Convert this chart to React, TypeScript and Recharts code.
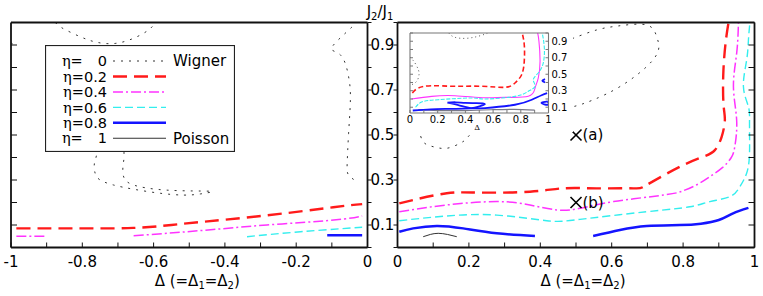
import React from "react";
import { ComposedChart, Line, Scatter, XAxis, YAxis, Legend } from "recharts";

type Pt = { x: number; y: number };

const FONT = "'DejaVu Sans', 'Liberation Sans', Arial, sans-serif";
const INK = "#111";

// axis ticks
const leftXTicks = [-1, -0.9, -0.8, -0.7, -0.6, -0.5, -0.4, -0.3, -0.2, -0.1, 0];
const leftXLabels = [-1, -0.8, -0.6, -0.4, -0.2, 0];
const rightXTicks = [0, 0.1, 0.2, 0.3, 0.4, 0.5, 0.6, 0.7, 0.8, 0.9, 1];
const rightXLabels = [0, 0.2, 0.4, 0.6, 0.8, 1];
const yTicks = [0, 0.1, 0.2, 0.3, 0.4, 0.5, 0.6, 0.7, 0.8, 0.9, 1];
const yLabels = [0.1, 0.3, 0.5, 0.7, 0.9];
const insetXTicks = [0, 0.1, 0.2, 0.3, 0.4, 0.5, 0.6, 0.7, 0.8, 0.9, 1];
const insetXLabels = [0, 0.2, 0.4, 0.6, 0.8, 1];
const insetYTicks = [0.1, 0.2, 0.3, 0.4, 0.5, 0.6, 0.7, 0.8, 0.9, 1];
const insetYLabels = [0.1, 0.3, 0.5, 0.7, 0.9];

const etaLevels = ["0", "0.2", "0.4", "0.6", "0.8", "1"];
const etaNotes = ["Wigner", "", "", "", "", "Poisson"];

const marks = [
  { x: 0.5, y: 0.5, tag: "(a)" },
  { x: 0.5, y: 0.2, tag: "(b)" },
];

// left panel contours (Delta < 0)
const leftWignerTop: Pt[] = [
  { x: -0.875, y: 1.0 }, { x: -0.858, y: 0.977 }, { x: -0.806, y: 0.937 }, { x: -0.759, y: 0.912 },
  { x: -0.708, y: 0.907 }, { x: -0.656, y: 0.93 }, { x: -0.614, y: 0.967 }, { x: -0.595, y: 1.0 },
];
const leftWignerEdge: Pt[] = [{ x: -1, y: 0.91 }, { x: -0.985, y: 0.893 }];
const leftWignerTongue: Pt[] = [
  { x: -0.76, y: 0.55 }, { x: -0.759, y: 0.426 }, { x: -0.766, y: 0.374 }, { x: -0.764, y: 0.33 },
  { x: -0.75, y: 0.3 }, { x: -0.713, y: 0.278 }, { x: -0.656, y: 0.259 }, { x: -0.581, y: 0.241 },
  { x: -0.516, y: 0.233 }, { x: -0.469, y: 0.238 }, { x: -0.436, y: 0.248 }, { x: -0.469, y: 0.251 },
  { x: -0.563, y: 0.255 }, { x: -0.638, y: 0.27 }, { x: -0.675, y: 0.293 }, { x: -0.686, y: 0.33 },
  { x: -0.685, y: 0.374 }, { x: -0.683, y: 0.416 }, { x: -0.685, y: 0.55 },
];
const leftWignerRight: Pt[] = [
  { x: -0.04, y: 1.0 }, { x: -0.043, y: 0.981 }, { x: -0.099, y: 0.892 }, { x: -0.076, y: 0.856 },
  { x: -0.053, y: 0.759 }, { x: -0.048, y: 0.656 }, { x: -0.053, y: 0.508 }, { x: -0.057, y: 0.374 },
  { x: -0.053, y: 0.322 }, { x: -0.029, y: 0.292 },
];
const leftEta02: Pt[] = [
  { x: -0.985, y: 0.085 }, { x: -0.8, y: 0.085 }, { x: -0.657, y: 0.087 }, { x: -0.55, y: 0.1 },
  { x: -0.469, y: 0.113 }, { x: -0.281, y: 0.143 }, { x: -0.096, y: 0.179 }, { x: -0.015, y: 0.193 },
];
const leftEta04a: Pt[] = [{ x: -0.985, y: 0.05 }, { x: -0.905, y: 0.05 }];
const leftEta04b: Pt[] = [
  { x: -0.656, y: 0.052 }, { x: -0.469, y: 0.075 }, { x: -0.282, y: 0.1 }, { x: -0.095, y: 0.122 },
  { x: -0.015, y: 0.14 },
];
const leftEta06: Pt[] = [{ x: -0.338, y: 0.048 }, { x: -0.188, y: 0.07 }, { x: -0.015, y: 0.09 }];
const leftEta08: Pt[] = [{ x: -0.113, y: 0.054 }, { x: -0.015, y: 0.054 }];

// right panel contours (Delta > 0)
const rightWigner: Pt[] = [
  { x: 0.06, y: 0.53 }, { x: 0.072, y: 0.47 }, { x: 0.1, y: 0.448 }, { x: 0.138, y: 0.441 },
  { x: 0.175, y: 0.463 }, { x: 0.194, y: 0.485 }, { x: 0.23, y: 0.53 }, { x: 0.33, y: 0.58 },
  { x: 0.43, y: 0.61 }, { x: 0.492, y: 0.626 }, { x: 0.548, y: 0.656 }, { x: 0.623, y: 0.715 },
  { x: 0.698, y: 0.804 }, { x: 0.731, y: 0.878 }, { x: 0.726, y: 0.937 }, { x: 0.698, y: 0.989 },
  { x: 0.62, y: 0.985 }, { x: 0.558, y: 0.967 }, { x: 0.492, y: 0.93 }, { x: 0.44, y: 0.9 },
];
const rightEta02: Pt[] = [
  { x: 0.005, y: 0.196 }, { x: 0.044, y: 0.211 }, { x: 0.138, y: 0.241 }, { x: 0.231, y: 0.244 },
  { x: 0.371, y: 0.248 }, { x: 0.464, y: 0.263 }, { x: 0.558, y: 0.263 }, { x: 0.661, y: 0.263 },
  { x: 0.698, y: 0.278 }, { x: 0.791, y: 0.359 }, { x: 0.857, y: 0.404 }, { x: 0.889, y: 0.433 },
  { x: 0.908, y: 0.492 }, { x: 0.917, y: 0.567 }, { x: 0.913, y: 0.641 }, { x: 0.913, y: 0.789 },
  { x: 0.92, y: 0.922 }, { x: 0.927, y: 0.998 },
];
const rightEta04: Pt[] = [
  { x: 0.005, y: 0.159 }, { x: 0.138, y: 0.189 }, { x: 0.278, y: 0.204 }, { x: 0.371, y: 0.189 },
  { x: 0.446, y: 0.167 }, { x: 0.511, y: 0.174 }, { x: 0.605, y: 0.204 }, { x: 0.745, y: 0.233 },
  { x: 0.8, y: 0.252 }, { x: 0.84, y: 0.28 }, { x: 0.875, y: 0.315 }, { x: 0.91, y: 0.355 },
  { x: 0.935, y: 0.4 }, { x: 0.945, y: 0.45 }, { x: 0.95, y: 0.567 }, { x: 0.941, y: 0.715 },
  { x: 0.95, y: 0.863 }, { x: 0.955, y: 0.998 },
];
const rightEta06: Pt[] = [
  { x: 0.005, y: 0.119 }, { x: 0.138, y: 0.14 }, { x: 0.278, y: 0.144 }, { x: 0.418, y: 0.119 },
  { x: 0.511, y: 0.125 }, { x: 0.698, y: 0.159 }, { x: 0.819, y: 0.181 }, { x: 0.875, y: 0.204 },
  { x: 0.931, y: 0.226 }, { x: 0.959, y: 0.27 }, { x: 0.978, y: 0.33 }, { x: 0.986, y: 0.419 },
  { x: 0.986, y: 0.552 }, { x: 0.983, y: 0.626 }, { x: 0.969, y: 0.715 }, { x: 0.978, y: 0.833 },
  { x: 0.983, y: 0.922 }, { x: 0.987, y: 0.998 },
];
const rightEta08a: Pt[] = [
  { x: 0.005, y: 0.07 }, { x: 0.044, y: 0.085 }, { x: 0.11, y: 0.096 }, { x: 0.184, y: 0.085 },
  { x: 0.278, y: 0.063 }, { x: 0.385, y: 0.051 },
];
const rightEta08b: Pt[] = [
  { x: 0.548, y: 0.051 }, { x: 0.623, y: 0.078 }, { x: 0.698, y: 0.096 }, { x: 0.791, y: 0.1 },
  { x: 0.85, y: 0.106 }, { x: 0.9, y: 0.122 }, { x: 0.94, y: 0.152 }, { x: 0.983, y: 0.176 },
];
const rightEta1: Pt[] = [
  { x: 0.072, y: 0.048 }, { x: 0.092, y: 0.058 }, { x: 0.114, y: 0.063 }, { x: 0.14, y: 0.058 },
  { x: 0.166, y: 0.048 },
];

// inset contours
const insetWignerTop: Pt[] = [
  { x: 0.28, y: 1.0 }, { x: 0.32, y: 0.95 }, { x: 0.4, y: 0.935 }, { x: 0.48, y: 0.955 },
  { x: 0.54, y: 0.985 }, { x: 0.56, y: 1.0 },
];
const insetWignerLeft: Pt[] = [
  { x: 0.0, y: 0.71 }, { x: 0.036, y: 0.636 }, { x: 0.06, y: 0.555 }, { x: 0.065, y: 0.494 },
  { x: 0.048, y: 0.414 }, { x: 0.012, y: 0.373 }, { x: 0.0, y: 0.36 },
];
const insetEta02: Pt[] = [
  { x: 0.017, y: 0.273 }, { x: 0.06, y: 0.333 }, { x: 0.157, y: 0.361 }, { x: 0.325, y: 0.354 },
  { x: 0.518, y: 0.354 }, { x: 0.686, y: 0.342 }, { x: 0.758, y: 0.394 }, { x: 0.806, y: 0.494 },
  { x: 0.825, y: 0.657 }, { x: 0.825, y: 0.858 }, { x: 0.81, y: 1.0 },
];
const insetEta04: Pt[] = [
  { x: 0.01, y: 0.2 }, { x: 0.157, y: 0.232 }, { x: 0.325, y: 0.24 }, { x: 0.542, y: 0.215 },
  { x: 0.686, y: 0.22 }, { x: 0.854, y: 0.232 }, { x: 0.903, y: 0.333 }, { x: 0.926, y: 0.454 },
  { x: 0.939, y: 0.657 }, { x: 0.931, y: 0.9 }, { x: 0.922, y: 1.0 },
];
const insetEta06: Pt[] = [
  { x: 0.04, y: 0.1 }, { x: 0.084, y: 0.163 }, { x: 0.204, y: 0.191 }, { x: 0.445, y: 0.212 },
  { x: 0.542, y: 0.2 }, { x: 0.758, y: 0.232 }, { x: 0.854, y: 0.293 }, { x: 0.903, y: 0.354 },
  { x: 0.89, y: 0.434 }, { x: 0.926, y: 0.515 }, { x: 0.962, y: 0.636 }, { x: 0.97, y: 0.818 },
  { x: 0.955, y: 1.0 },
];
const insetEta08: Pt[] = [
  { x: 0.02, y: 0.06 }, { x: 0.15, y: 0.075 }, { x: 0.3, y: 0.08 }, { x: 0.45, y: 0.085 },
  { x: 0.542, y: 0.09 }, { x: 0.758, y: 0.13 }, { x: 0.879, y: 0.19 }, { x: 0.95, y: 0.245 },
  { x: 0.99, y: 0.27 },
];
const insetEta08Loop: Pt[] = [
  { x: 0.27, y: 0.155 }, { x: 0.33, y: 0.16 }, { x: 0.4, y: 0.152 }, { x: 0.48, y: 0.15 },
  { x: 0.54, y: 0.14 }, { x: 0.5, y: 0.11 }, { x: 0.44, y: 0.09 }, { x: 0.36, y: 0.12 },
  { x: 0.27, y: 0.155 },
];
const insetEta08Dot1: Pt[] = [{ x: 0.975, y: 0.44 }, { x: 0.955, y: 0.42 }, { x: 0.975, y: 0.4 }];
const insetEta08Dot2: Pt[] = [
  { x: 0.995, y: 0.17 }, { x: 0.95, y: 0.15 }, { x: 0.995, y: 0.13 }, { x: 0.995, y: 0.17 },
];
const insetEta1: Pt[] = [
  { x: 0.06, y: 0.07 }, { x: 0.2, y: 0.06 }, { x: 0.4, y: 0.06 }, { x: 0.6, y: 0.07 },
  { x: 0.75, y: 0.075 }, { x: 0.9, y: 0.065 },
];

const STYLE: Record<string, any> = {
  "0": { stroke: "#333", strokeWidth: 1, strokeDasharray: "2 6" },
  "0.2": { stroke: "#ff1a1a", strokeWidth: 2.4, strokeDasharray: "14 7" },
  "0.4": { stroke: "#ff33ff", strokeWidth: 1.5, strokeDasharray: "10 3 2 3" },
  "0.6": { stroke: "#33eeee", strokeWidth: 1.4, strokeDasharray: "8 4" },
  "0.8": { stroke: "#1414ff", strokeWidth: 2.5 },
  "1": { stroke: "#333", strokeWidth: 1 },
};
const INSET_STYLE: Record<string, any> = {
  "0": { stroke: "#555", strokeWidth: 1, strokeDasharray: "1 3" },
  "0.2": { stroke: "#ff1a1a", strokeWidth: 1.6, strokeDasharray: "5 3" },
  "0.4": { stroke: "#ff33ff", strokeWidth: 1.1 },
  "0.6": { stroke: "#33eeee", strokeWidth: 1.1, strokeDasharray: "4 1.5" },
  "0.8": { stroke: "#1414ff", strokeWidth: 1.8 },
  "1": { stroke: "#778", strokeWidth: 1.2 },
};

const leftPieces: [string, Pt[]][] = [
  ["0", leftWignerTop], ["0", leftWignerEdge], ["0", leftWignerTongue], ["0", leftWignerRight],
  ["0.2", leftEta02], ["0.4", leftEta04a], ["0.4", leftEta04b], ["0.6", leftEta06], ["0.8", leftEta08],
];
const rightPieces: [string, Pt[]][] = [
  ["0", rightWigner], ["0.2", rightEta02], ["0.4", rightEta04], ["0.6", rightEta06],
  ["0.8", rightEta08a], ["0.8", rightEta08b], ["1", rightEta1],
];
const insetPieces: [string, Pt[]][] = [
  ["0", insetWignerTop], ["0", insetWignerLeft], ["0.2", insetEta02], ["0.4", insetEta04],
  ["0.6", insetEta06], ["1", insetEta1], ["0.8", insetEta08], ["0.8", insetEta08Loop],
  ["0.8", insetEta08Dot1], ["0.8", insetEta08Dot2],
];

const fmt = (v: number) => {
  const r = Math.round(v * 10) / 10;
  return r === 0 ? "0" : String(r);
};
const has = (list: number[], v: number) => list.some((t) => Math.abs(t - v) < 1e-6);

type TickOpts = {
  side: "bottom" | "top" | "left" | "right";
  len: number;
  labels?: number[];
  color?: string;
  size?: number;
  gap?: number;
};

const makeTick = (o: TickOpts) => (p: any) => {
  const { x, y, payload } = p;
  const v = payload.value as number;
  const c = o.color ?? INK;
  let x2 = x;
  let y2 = y;
  if (o.side === "bottom") y2 = y - o.len;
  if (o.side === "top") y2 = y + o.len;
  if (o.side === "left") x2 = x + o.len;
  if (o.side === "right") x2 = x - o.len;
  const showLabel = o.labels && has(o.labels, v);
  return (
    <g>
      <line x1={x} y1={y} x2={x2} y2={y2} stroke={c} strokeWidth={1} />
      {showLabel && o.side === "bottom" && (
        <text x={x} y={y + (o.gap ?? 0)} dy="0.71em" textAnchor="middle" fontFamily={FONT} fontSize={o.size ?? 15} fill="#000">
          {fmt(v)}
        </text>
      )}
      {showLabel && o.side === "right" && (
        <text x={x + (o.gap ?? 0)} y={y} dy="0.36em" textAnchor="start" fontFamily={FONT} fontSize={o.size ?? 15} fill="#000">
          {fmt(v)}
        </text>
      )}
    </g>
  );
};

const deltaTitle = (size: number, dyOff: number, shift: number) => (props: any) => {
  const vb = props.viewBox;
  const sub = Math.round(size * 0.68);
  return (
    <text x={vb.x + vb.width / 2 + shift} y={vb.y + dyOff} textAnchor="middle" fontFamily={FONT} fontSize={size} fill="#000">
      <tspan>Δ (=Δ</tspan>
      <tspan fontSize={sub} dy={size * 0.25}>1</tspan>
      <tspan dy={-size * 0.25}>=Δ</tspan>
      <tspan fontSize={sub} dy={size * 0.25}>2</tspan>
      <tspan dy={-size * 0.25}>)</tspan>
    </text>
  );
};

const insetDelta = (props: any) => {
  const vb = props.viewBox;
  return (
    <text x={vb.x + vb.width / 2 - 2} y={vb.y + 17} textAnchor="middle" fontFamily="'DejaVu Serif', serif" fontSize={8} fill="#000">
      Δ
    </text>
  );
};

const ratioTitle = (props: any) => {
  const vb = props.viewBox;
  return (
    <text x={vb.x + 12.5} y={vb.y - 6} textAnchor="middle" fontFamily={FONT} fontSize={15} fill="#000">
      <tspan>J</tspan>
      <tspan fontSize={10} dy={3}>2</tspan>
      <tspan dy={-3}>/J</tspan>
      <tspan fontSize={10} dy={3}>1</tspan>
    </text>
  );
};

const Cross = (p: any) => {
  const { cx, cy, payload } = p;
  const r = 5.5;
  return (
    <g>
      <line x1={cx - r} y1={cy - r} x2={cx + r} y2={cy + r} stroke="#000" strokeWidth={1.6} />
      <line x1={cx - r} y1={cy + r} x2={cx + r} y2={cy - r} stroke="#000" strokeWidth={1.6} />
      <text x={cx + 6.5} y={cy} dy="0.36em" fontFamily={FONT} fontSize={15} fill="#000">
        {payload.tag}
      </text>
    </g>
  );
};

const LegendBox = () => (
  <svg width={190} height={107} style={{ display: "block" }}>
    <rect x={0.5} y={0.5} width={189} height={106} fill="#fff" stroke="#222" strokeWidth={1.2} />
    {etaLevels.map((lv, i) => {
      const cy = 16 + i * 15.45;
      const pad = lv.length === 1 ? 15 : 0;
      return (
        <g key={lv}>
          <text x={62} y={cy} dy="0.36em" textAnchor="end" fontFamily={FONT} fontSize={14.5} fill="#000">
            <tspan fontFamily="'DejaVu Serif', serif">η</tspan>
            <tspan>=</tspan>
            <tspan dx={pad}>{lv}</tspan>
          </text>
          <line x1={68} x2={121} y1={cy} y2={cy} {...STYLE[lv]} />
          {etaNotes[i] && (
            <text x={128} y={cy} dy="0.36em" fontFamily={FONT} fontSize={15} fill="#000">
              {etaNotes[i]}
            </text>
          )}
        </g>
      );
    })}
  </svg>
);

const frameLine = { stroke: INK, strokeWidth: 1.8 };
const insetFrame = { stroke: "#777", strokeWidth: 1.1 };

const lineProps = {
  dataKey: "y",
  xAxisId: "b",
  yAxisId: "l",
  type: "natural" as const,
  dot: false,
  activeDot: false,
  isAnimationActive: false,
  legendType: "none" as const,
};

export default function App() {
  return (
    <div style={{ position: "absolute", left: 0, top: 0, width: 763, height: 296, background: "#fff" }}>
      <div style={{ position: "absolute", left: 0, top: 0 }}>
        <ComposedChart width={763} height={296} margin={{ top: 2.5, right: 365.5, bottom: 18.5, left: 1 }}>
          <XAxis xAxisId="b" dataKey="x" type="number" domain={[-1, 0]} allowDataOverflow ticks={leftXTicks}
            interval={0} height={30} tickSize={0} tickMargin={0} tickLine={false} axisLine={frameLine}
            tick={makeTick({ side: "bottom", len: 5, labels: leftXLabels, gap: 9 })}
            label={deltaTitle(15, 38, 8)} />
          <XAxis xAxisId="t" orientation="top" type="number" domain={[-1, 0]} allowDataOverflow ticks={leftXTicks}
            interval={0} height={20} tickSize={0} tickMargin={0} tickLine={false} axisLine={frameLine}
            tick={makeTick({ side: "top", len: 5 })} />
          <YAxis yAxisId="l" dataKey="y" type="number" domain={[0, 1]} allowDataOverflow ticks={yTicks}
            interval={0} width={10} tickSize={0} tickMargin={0} tickLine={false} axisLine={frameLine}
            tick={makeTick({ side: "left", len: 6 })} />
          <YAxis yAxisId="r" orientation="right" type="number" domain={[0, 1]} allowDataOverflow ticks={yTicks}
            interval={0} width={30} tickSize={0} tickMargin={0} tickLine={false} axisLine={frameLine}
            tick={makeTick({ side: "right", len: -4, labels: yLabels, gap: 3 })}
            label={ratioTitle} />
          {leftPieces.map(([lv, d], i) => (
            <Line key={"l" + i} data={d} {...lineProps} {...STYLE[lv]} />
          ))}
          <Legend layout="vertical" align="center" verticalAlign="middle" content={() => <LegendBox />}
            wrapperStyle={{ left: 45, top: 45, width: 190, height: 107 }} />
        </ComposedChart>
      </div>
      <div style={{ position: "absolute", left: 0, top: 0 }}>
        <ComposedChart width={763} height={296} margin={{ top: 2.5, right: 3.5, bottom: 18.5, left: 387.5 }}>
          <XAxis xAxisId="b" dataKey="x" type="number" domain={[0, 1]} allowDataOverflow ticks={rightXTicks}
            interval={0} height={30} tickSize={0} tickMargin={0} tickLine={false} axisLine={frameLine}
            tick={makeTick({ side: "bottom", len: 5, labels: rightXLabels, gap: 9 })}
            label={deltaTitle(15, 38, 7)} />
          <XAxis xAxisId="t" orientation="top" type="number" domain={[0, 1]} allowDataOverflow ticks={rightXTicks}
            interval={0} height={20} tickSize={0} tickMargin={0} tickLine={false} axisLine={frameLine}
            tick={makeTick({ side: "top", len: 5 })} />
          <YAxis yAxisId="l" dataKey="y" type="number" domain={[0, 1]} allowDataOverflow ticks={yTicks}
            interval={0} width={10} tickSize={0} tickMargin={0} tickLine={false} axisLine={frameLine}
            tick={makeTick({ side: "left", len: -4 })} />
          <YAxis yAxisId="r" orientation="right" type="number" domain={[0, 1]} allowDataOverflow ticks={yTicks}
            interval={0} width={5} tickSize={0} tickMargin={0} tickLine={false} axisLine={frameLine}
            tick={makeTick({ side: "right", len: 6 })} />
          {rightPieces.map(([lv, d], i) => (
            <Line key={"r" + i} data={d} {...lineProps} {...STYLE[lv]} />
          ))}
          <Scatter data={marks} xAxisId="b" yAxisId="l" shape={<Cross />} isAnimationActive={false} legendType="none" />
        </ComposedChart>
      </div>
      <div style={{ position: "absolute", left: 405, top: 28, width: 168, height: 104, background: "#fff" }}>
        <ComposedChart width={168} height={104} margin={{ top: 4, right: 2.5, bottom: 0, left: 4 }}>
          <XAxis xAxisId="b" dataKey="x" type="number" domain={[0, 1]} allowDataOverflow ticks={insetXTicks}
            interval={0} height={19} tickSize={0} tickMargin={0} tickLine={false} axisLine={insetFrame}
            tick={makeTick({ side: "bottom", len: 3, labels: insetXLabels, gap: 3, size: 10, color: "#777" })}
            label={insetDelta} />
          <XAxis xAxisId="t" orientation="top" type="number" domain={[0, 1]} allowDataOverflow ticks={insetXTicks}
            interval={0} height={1} tickSize={0} tickMargin={0} tickLine={false} axisLine={insetFrame}
            tick={makeTick({ side: "top", len: 3, color: "#777" })} />
          <YAxis yAxisId="l" dataKey="y" type="number" domain={[0.03, 1]} allowDataOverflow ticks={insetYTicks}
            interval={0} width={1} tickSize={0} tickMargin={0} tickLine={false} axisLine={insetFrame}
            tick={makeTick({ side: "left", len: 3, color: "#777" })} />
          <YAxis yAxisId="r" orientation="right" type="number" domain={[0.03, 1]} allowDataOverflow ticks={insetYTicks}
            interval={0} width={22} tickSize={0} tickMargin={0} tickLine={false} axisLine={insetFrame}
            tick={makeTick({ side: "right", len: 3, labels: insetYLabels, gap: 3, size: 10, color: "#777" })} />
          {insetPieces.map(([lv, d], i) => (
            <Line key={"i" + i} data={d} {...lineProps} {...INSET_STYLE[lv]} />
          ))}
        </ComposedChart>
      </div>
    </div>
  );
}
